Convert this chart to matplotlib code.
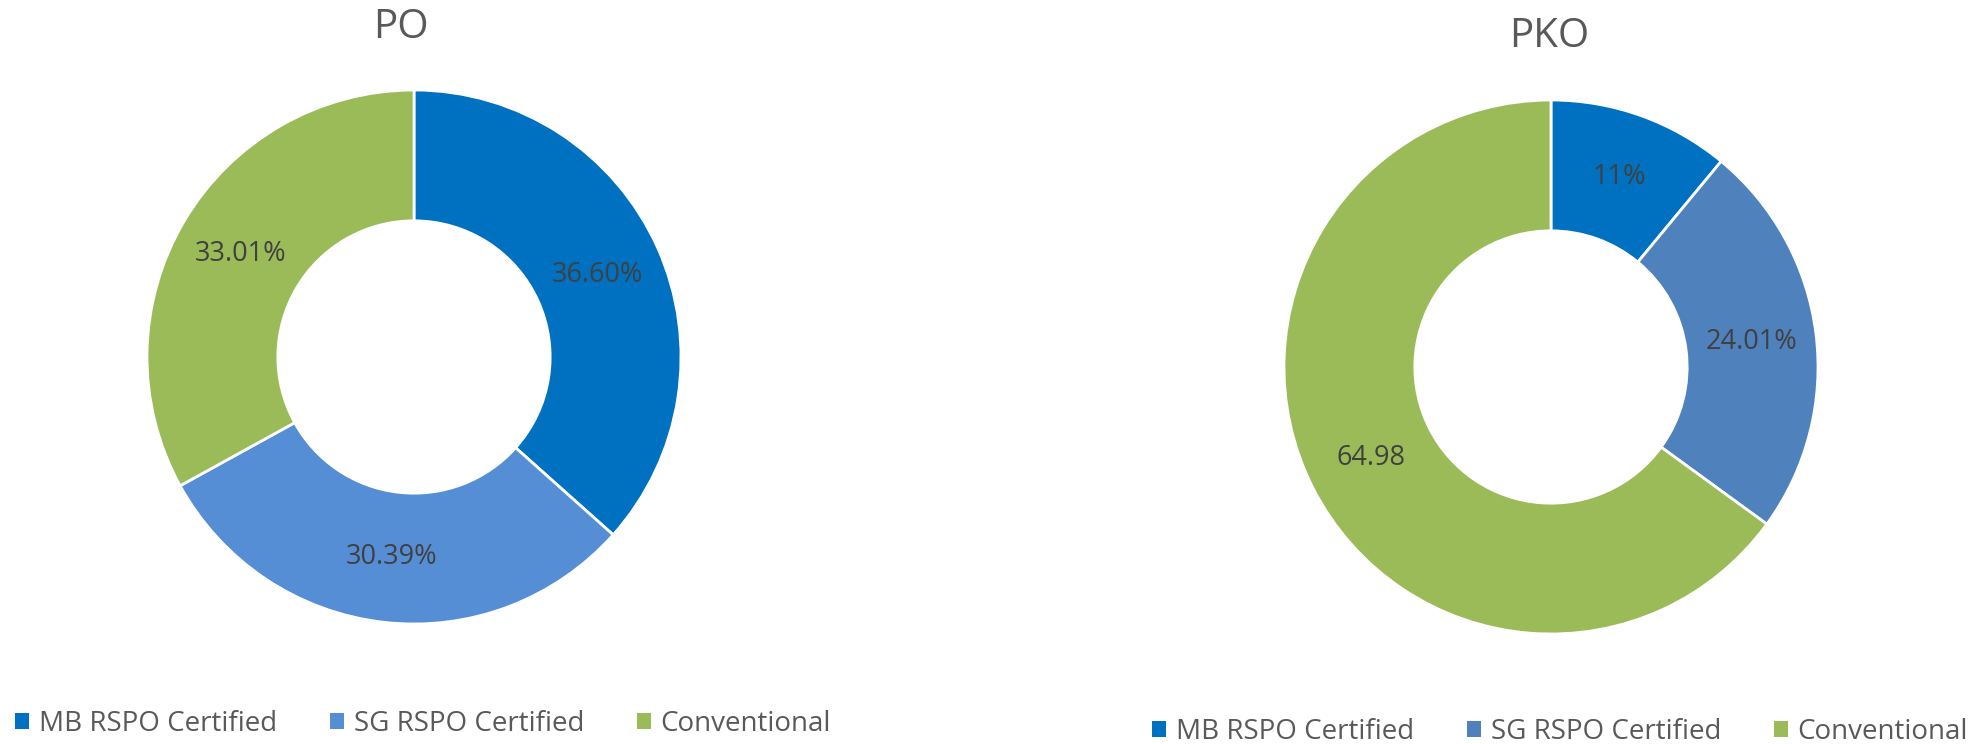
import matplotlib
matplotlib.use("Agg")
import matplotlib.pyplot as plt
import matplotlib.patches as mpatches

plt.rcParams['font.family'] = ['Open Sans', 'DejaVu Sans']

categories = ["MB RSPO Certified", "SG RSPO Certified", "Conventional"]

po_values = [36.60, 30.39, 33.01]
po_labels = ["36.60%", "30.39%", "33.01%"]
po_colors = ["#0070C0", "#558ED5", "#9BBB59"]

pko_values = [11.0, 24.01, 64.98]
pko_labels = ["11%", "24.01%", "64.98"]
pko_colors = ["#0070C0", "#4F81BD", "#9BBB59"]

W, H = 1977, 744
fig = plt.figure(figsize=(W / 100, H / 100), dpi=100)
fig.patch.set_facecolor("white")

R = 267
ring = 1 - 0.51


def donut(cx, cy, values, labels, colors, title, tx, ty):
    ax = fig.add_axes([(cx - R) / W, 1 - (cy + R) / H, 2 * R / W, 2 * R / H])
    wedges, texts = ax.pie(values, labels=labels, colors=colors, startangle=90,
                           counterclock=False, labeldistance=1 - ring / 2,
                           wedgeprops=dict(width=ring, edgecolor="white", linewidth=2.0),
                           textprops=dict(fontsize=19.5, color="#404040"))
    for t in texts:
        t.set_horizontalalignment("center")
        t.set_verticalalignment("center")
    ax.set_xlim(-1, 1)
    ax.set_ylim(-1, 1)
    ax.set_aspect("equal")
    ax.axis("off")
    fig.text(tx / W, 1 - ty / H, title, ha="center", va="center",
             fontsize=29, color="#595959")
    return ax


donut(414, 357, po_values, po_labels, po_colors, "PO", 401, 28)
donut(1551, 367, pko_values, pko_labels, pko_colors, "PKO", 1549, 37)


def legend(x, y, colors):
    handles = [mpatches.Patch(facecolor=c, edgecolor="none", label=l)
               for c, l in zip(colors, categories)]
    fig.legend(handles=handles, loc="center left", bbox_to_anchor=(x / W, 1 - y / H),
               ncol=3, frameon=False, fontsize=20, handlelength=0.5, handleheight=0.5,
               handletextpad=0.36, columnspacing=1.9, borderpad=0, borderaxespad=0,
               labelcolor="#595959")


legend(15, 724, po_colors)
legend(1152, 732, pko_colors)

fig.savefig("out.png", dpi=100, facecolor="white")
